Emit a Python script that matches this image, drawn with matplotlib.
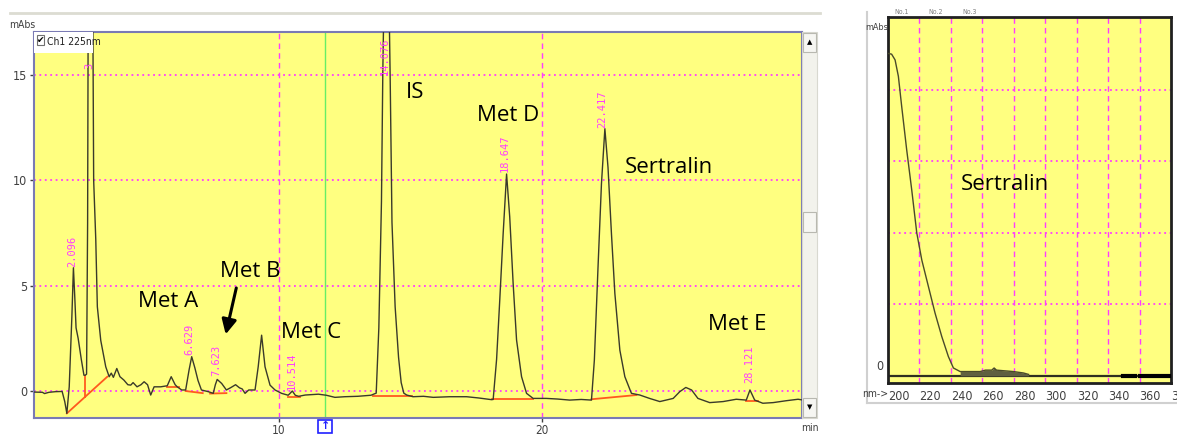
import numpy as np
import matplotlib
matplotlib.use('Agg')
import matplotlib.pyplot as plt
from matplotlib.patches import Rectangle
from matplotlib.lines import Line2D
import matplotlib.transforms as mtransforms

# chromatogram trace (min, mAbs)
trace_t = [0.70, 1.00, 1.08, 1.25, 1.50, 1.75, 1.85, 1.93, 2.02, 2.12, 2.18, 2.23, 2.28, 2.36, 2.48, 2.58,
           2.63, 2.68, 2.72, 2.74, 2.92, 2.93, 2.95, 3.03, 3.09, 3.22, 3.41, 3.54, 3.62, 3.70, 3.83, 3.95,
           4.10, 4.25, 4.36, 4.45, 4.60, 4.75, 4.87, 5.00, 5.12, 5.25, 5.50, 5.75, 5.90, 6.05, 6.13, 6.30,
           6.45, 6.58, 6.68, 6.80, 6.92, 7.05, 7.31, 7.50, 7.58, 7.65, 7.82, 8.00, 8.15, 8.35, 8.50, 8.60,
           8.71, 8.85, 9.09, 9.21, 9.34, 9.47, 9.66, 9.85, 10.10, 10.35, 10.51, 10.62, 10.75, 11.00, 11.50,
           11.80, 12.13, 12.50, 13.00, 13.50, 13.70, 13.80, 13.90, 13.95, 13.98, 14.20, 14.23, 14.30, 14.42,
           14.55, 14.65, 14.75, 14.86, 15.10, 15.50, 15.87, 16.50, 17.14, 17.60, 18.09, 18.15, 18.28, 18.40,
           18.53, 18.66, 18.78, 18.91, 19.04, 19.23, 19.42, 19.67, 20.17, 20.60, 21.06, 21.50, 21.89, 22.00,
           22.14, 22.27, 22.40, 22.52, 22.65, 22.78, 22.97, 23.16, 23.41, 23.73, 24.10, 24.49, 25.00, 25.25,
           25.48, 25.70, 25.94, 26.39, 26.90, 27.40, 27.78, 27.92, 28.10, 28.41, 28.80, 29.30, 29.75, 29.90]
trace_y = [-0.05, -0.06, -0.12, -0.06, -0.03, -0.02, -0.50, -1.06, 0.20, 3.50, 5.85, 4.50, 3.00, 2.50, 1.50, 0.75,
           0.75, 0.80, 8.00, 17.50, 17.50, 15.00, 10.00, 7.20, 4.00, 2.40, 1.15, 0.68, 0.85, 0.65, 1.07, 0.68,
           0.52, 0.30, 0.28, 0.40, 0.20, 0.30, 0.44, 0.30, -0.19, 0.20, 0.20, 0.25, 0.68, 0.30, 0.20, 0.05,
           0.05, 1.00, 1.63, 1.10, 0.50, 0.05, -0.03, -0.11, 0.30, 0.55, 0.36, 0.05, 0.15, 0.30, 0.15, 0.10,
           -0.11, 0.05, 0.05, 1.15, 2.65, 1.15, 0.28, 0.05, -0.11, -0.20, 0.00, -0.20, -0.25, -0.19, -0.15,
           -0.20, -0.30, -0.27, -0.25, -0.20, -0.10, 3.00, 9.00, 15.00, 17.50, 17.50, 15.00, 8.00, 4.00,
           1.60, 0.40, -0.10, -0.19, -0.27, -0.25, -0.30, -0.27, -0.27, -0.33, -0.41, -0.40, 1.50, 4.30,
           7.47, 10.30, 8.26, 5.10, 2.42, 0.68, -0.11, -0.35, -0.35, -0.38, -0.43, -0.40, -0.43, 1.47,
           5.90, 9.84, 12.45, 10.60, 7.47, 4.63, 1.94, 0.68, -0.11, -0.19, -0.35, -0.50, -0.35, -0.03,
           0.17, 0.05, -0.35, -0.55, -0.50, -0.39, -0.43, 0.05, -0.43, -0.58, -0.55, -0.46, -0.39, -0.42]

# integration baselines (red)
base_t0 = [1.93, 2.61, 5.75, 6.45, 7.38, 10.35, 13.59, 18.09, 21.89, 27.76]
base_y0 = [-1.06, 0.72, 0.20, 0.00, -0.12, -0.27, -0.22, -0.39, -0.39, -0.46]
base_t1 = [3.47, 2.61, 6.20, 7.10, 8.00, 10.80, 15.05, 19.67, 23.60, 28.22]
base_y1 = [0.68, -0.29, 0.20, -0.10, -0.10, -0.27, -0.22, -0.39, -0.19, -0.46]

# retention time labels
rt_labels = ['2.096', '3', '14.076', '6.629', '7.623', '10.514', '18.647', '22.417', '28.121']
rt_t = [2.14, 2.78, 14.03, 6.58, 7.63, 10.48, 18.60, 22.30, 27.88]
rt_y = [5.90, 15.3, 15.00, 1.70, 0.70, 0.05, 10.40, 12.50, 0.36]

# compound names
names = ['IS', 'Met D', 'Sertralin', 'Met A', 'Met B', 'Met C', 'Met E']
name_t = [15.17, 18.70, 24.83, 5.78, 8.90, 11.22, 27.45]
name_y = [14.15, 13.08, 10.60, 4.27, 5.69, 2.80, 3.18]

# UV spectrum of sertralin
spec_nm = [200.2, 202.3, 204.5, 206.6, 208.7, 211.9, 215.1, 218.3, 221.5, 225.7, 229.9, 234.2, 238.4,
           241.6, 245.9, 258.6, 262.0, 266.0, 267.5, 269.0, 279.8, 286.2, 289.4]
spec_abs = [4.51, 4.50, 4.42, 4.19, 3.77, 3.16, 2.60, 2.00, 1.62, 1.25, 0.88, 0.55, 0.27,
            0.11, 0.06, 0.06, 0.08, 0.08, 0.11, 0.08, 0.06, 0.04, 0.02]

mag = '#ff3cff'
yellow = '#ffff80'
small = dict(family='DejaVu Sans', stretch='condensed', color='#404040')

fig = plt.figure(figsize=(11.77, 4.34), dpi=100)
fig.patch.set_facecolor('white')

# ---- main chromatogram ----
ax = fig.add_axes([34/1177, 16/434, 768/1177, 386/434])
ax.set_facecolor(yellow)
ax.set_xlim(0.68, 29.9)
ax.set_ylim(-1.28, 17.04)
for yy in [0, 5, 10, 15]:
    ax.axhline(yy, color=mag, lw=1.3, ls=(0, (1, 2)), zorder=1)
for xx in [10, 20]:
    ax.axvline(xx, color=mag, lw=1.0, ls=(0, (4, 3)), zorder=1)
ax.axvline(11.75, color='#66ee66', lw=1.0, zorder=1)

for i in range(len(base_t0)):
    ax.plot([base_t0[i], base_t1[i]], [base_y0[i], base_y1[i]], color='#ff5a1e', lw=1.3, zorder=2)
ax.plot(trace_t, trace_y, color='#3a3a2a', lw=1.0, zorder=3)

for s, t, y in zip(rt_labels, rt_t, rt_y):
    ax.text(t, y, s, rotation=90, ha='center', va='bottom', color=mag, fontsize=7.5,
            family='DejaVu Sans Mono', clip_on=True, zorder=4)
for s, t, y in zip(names, name_t, name_y):
    ax.text(t, y, s, ha='center', va='center', fontsize=16, family='Open Sans', color='black', zorder=5)
ax.annotate('', xy=(7.95, 2.56), xytext=(8.40, 5.02),
            arrowprops=dict(arrowstyle='-|>', lw=2.2, color='black', mutation_scale=22), zorder=5)

ax.set_xticks([10, 20])
ax.set_yticks([0, 5, 10, 15])
ax.tick_params(colors='#404040', length=3, width=1, labelsize=9, pad=2)
ax.tick_params(axis='x', pad=1, labelsize=8.5)
for lab in ax.get_xticklabels() + ax.get_yticklabels():
    lab.set_family('DejaVu Sans')
    lab.set_stretch('condensed')
for sp in ax.spines.values():
    sp.set_color('#7a7ab4')
    sp.set_linewidth(1.5)

# legend box
ax.add_patch(Rectangle((0, 0.9456), 0.077, 0.0544, transform=ax.transAxes, facecolor='white',
                       edgecolor='none', zorder=6))
ax.add_patch(Rectangle((0.0035, 0.966), 0.0095, 0.026, transform=ax.transAxes, facecolor='white',
                       edgecolor='#707070', lw=0.8, zorder=7))
ax.text(0.0083, 0.978, '\u2714', transform=ax.transAxes, ha='center', va='center', fontsize=6.5, zorder=8)
ax.text(0.0165, 0.973, 'Ch1 225nm', transform=ax.transAxes, ha='left', va='center', fontsize=7.5,
        family='DejaVu Sans', stretch='condensed', color='#202020', zorder=8)

# blue cursor marker under the axis
trans = mtransforms.blended_transform_factory(ax.transData, ax.transAxes)
ax.add_patch(Rectangle((11.49, -0.039), 0.53, 0.034, transform=trans, facecolor='white',
                       edgecolor='#2020ff', lw=1.2, clip_on=False, zorder=6))
ax.text(11.755, -0.022, '\u2191', transform=trans, ha='center', va='center', fontsize=8,
        color='#2020ff', fontweight='bold', clip_on=False, zorder=7)

fig.text(22/1177, 1 - 25/434, 'mAbs', ha='center', va='center', fontsize=7.5, **small)
fig.text(810/1177, 1 - 428/434, 'min', ha='center', va='center', fontsize=7.5, **small)
fig.add_artist(Line2D([10/1177, 820/1177], [1 - 13/434, 1 - 13/434], color='#dcdcd2', lw=2))

# scrollbar
fig.add_artist(Rectangle((802/1177, 16/434), 15/1177, 386/434, facecolor='#f2f2ec', edgecolor='#d8d8d0', lw=0.8))
for y0, sym in [(382/434, '\u25b2'), (17/434, '\u25bc')]:
    fig.add_artist(Rectangle((803/1177, y0), 13/1177, 19/434, facecolor='#f6f6f2', edgecolor='#b8b8b0', lw=0.8))
    fig.text(809.5/1177, y0 + 9.5/434, sym, ha='center', va='center', fontsize=5, color='black')
fig.add_artist(Rectangle((803/1177, 202/434), 13/1177, 20/434, facecolor='#f6f6f2', edgecolor='#b8b8b0', lw=0.8))

# ---- UV spectrum ----
ax2 = fig.add_axes([888/1177, 51/434, 283/1177, 366/434])
ax2.set_facecolor(yellow)
ax2.set_xlim(200, 380)
ax2.set_ylim(-0.1, 5.02)
for yy in [1, 2, 3, 4]:
    ax2.axhline(yy, color=mag, lw=1.3, ls=(0, (1, 2)), zorder=1)
for xx in range(220, 380, 20):
    ax2.axvline(xx, color=mag, lw=1.0, ls=(0, (4, 3)), zorder=1)
ax2.axhline(0, color='#303020', lw=1.6, zorder=2)
ax2.fill_between(spec_nm, 0, spec_abs, where=[n > 243 for n in spec_nm], color='#606040', lw=0, zorder=2)
ax2.plot(spec_nm, spec_abs, color='#4a4a2a', lw=1.0, zorder=3)
ax2.plot([349.7, 357.4], [0, 0], color='black', lw=3, zorder=3)
ax2.plot([360.5, 379.6], [0, 0], color='black', lw=3, zorder=3)
ax2.text(274.5, 2.67, 'Sertralin', ha='center', va='center', fontsize=16, family='Open Sans', zorder=5)

ax2.set_xticks(range(200, 400, 20))
ax2.set_yticks([])
ax2.tick_params(axis='x', length=0, pad=5, labelsize=9, colors='#404040')
for lab in ax2.get_xticklabels():
    lab.set_family('DejaVu Sans')
    lab.set_stretch('condensed')
    lab.set_horizontalalignment('left')
for sp in ax2.spines.values():
    sp.set_color('#202020')
    sp.set_linewidth(2)
ax2.text(-0.015, 0.13, '0', transform=ax2.get_yaxis_transform(), ha='right', va='center',
         fontsize=9, **small)

fig.text(877/1177, 1 - 27/434, 'mAbs', ha='center', va='center', fontsize=6.5, **small)
fig.text(875/1177, 1 - 394/434, 'nm->', ha='center', va='center', fontsize=7.5, **small)
for xp, s in zip([902, 936, 970], ['No.1', 'No.2', 'No.3']):
    fig.text(xp/1177, 1 - 12/434, s, ha='center', va='center', fontsize=5, family='DejaVu Sans',
             stretch='condensed', color='#808080')
fig.add_artist(Line2D([867/1177, 867/1177], [1 - 12/434, 1 - 403/434], color='#d0d0d0', lw=1.5))
fig.add_artist(Line2D([867/1177, 1.0], [1 - 403/434, 1 - 403/434], color='#d0d0d0', lw=1.5))

fig.savefig('out.png', dpi=100)
